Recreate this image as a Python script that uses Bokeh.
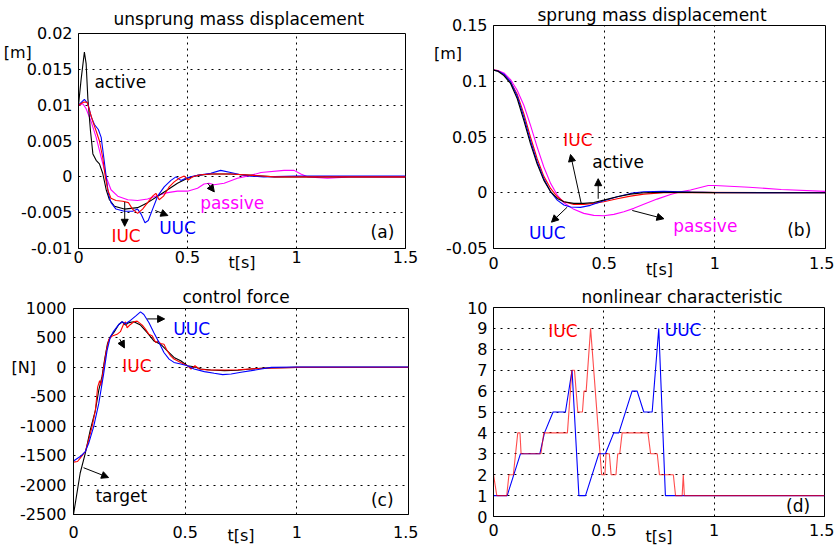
from bokeh.plotting import figure
from bokeh.models import Label, Arrow, NormalHead, FixedTicker, Range1d
from bokeh.layouts import column, row
from bokeh.embed import file_html
from bokeh.resources import INLINE

FONT = "DejaVu Sans"
RED, BLUE, MAG, BLK = "#ff0000", "#0000ff", "#ff00ff", "#000000"
NB = "\u00a0"

# ---------------- data ----------------
x_ticks = [0, 0.5, 1, 1.5]
x_tick_labels = ["0", "0.5", "1", "1.5"]

# (a) unsprung mass displacement [m]
a_yticks = [-0.01, -0.005, 0, 0.005, 0.01, 0.015, 0.02]
a_ylabels = ["-0.01", "-0.005", "0", "0.005", "0.01", "0.015", "0.02"]
a_unit, a_unit_y = "[m]", 0.0174
a_t_active = [0, 0.012, 0.027, 0.035, 0.043, 0.055, 0.066, 0.081, 0.096, 0.111, 0.127, 0.142, 0.165,
              0.21, 0.271, 0.317, 0.363, 0.409, 0.454, 0.5, 0.546, 0.607, 0.698, 0.8, 0.9, 1.0, 1.5]
a_active = [0.01, 0.0136, 0.0174, 0.0158, 0.0109, 0.0064, 0.0032, 0.0023, 0.0018, 0.0005, -0.0018,
            -0.0032, -0.0041, -0.0045, -0.0043, -0.0036, -0.0027, -0.0018, -0.0009, -0.0002, 0.0002,
            0.0004, 0.0004, 0.0002, 0.0, 0.0, 0.0]
a_t_uuc = [0, 0.027, 0.043, 0.058, 0.073, 0.091, 0.104, 0.116, 0.127, 0.137, 0.149, 0.172, 0.21, 0.248,
           0.271, 0.287, 0.305, 0.32, 0.34, 0.363, 0.393, 0.424, 0.447, 0.47, 0.492, 0.515, 0.546, 0.607,
           0.652, 0.698, 0.744, 0.79, 0.85, 1.0, 1.5]
a_uuc = [0.01, 0.0108, 0.0102, 0.0084, 0.0073, 0.0066, 0.0055, 0.0027, 0.0, -0.0023, -0.0036, -0.0045,
         -0.0048, -0.0048, -0.0045, -0.0052, -0.0064, -0.0061, -0.0045, -0.0027, -0.0014, -0.0005, 0.0,
         -0.0005, -0.0002, 0.0, 0.0002, 0.0005, 0.0009, 0.0006, 0.0003, 0.0001, 0.0, 0.0001, 0.0001]
a_t_iuc = [0, 0.024, 0.04, 0.05, 0.066, 0.081, 0.096, 0.111, 0.123, 0.134, 0.149, 0.172, 0.203, 0.229,
           0.248, 0.271, 0.294, 0.317, 0.34, 0.355, 0.37, 0.39, 0.416, 0.439, 0.462, 0.485, 0.503, 0.523,
           0.561, 0.607, 0.7, 0.8, 0.9, 1.5]
a_iuc = [0.01, 0.01045, 0.0104, 0.0093, 0.0077, 0.0064, 0.005, 0.0027, 0.0, -0.0018, -0.003, -0.0033,
         -0.0034, -0.0036, -0.0045, -0.0051, -0.0045, -0.0036, -0.0027, -0.0023, -0.0032, -0.0027,
         -0.0014, -0.0007, -0.0002, 0.0001, -0.00045, 0.0, 0.0003, 0.0004, 0.0004, 0.0002, 0.0, 0.0]
a_t_pas = [0, 0.02, 0.035, 0.058, 0.081, 0.104, 0.127, 0.149, 0.18, 0.226, 0.271, 0.317, 0.363, 0.409,
           0.454, 0.5, 0.546, 0.576, 0.599, 0.622, 0.668, 0.729, 0.79, 0.837, 0.943, 0.989, 1.02, 1.05,
           1.142, 1.248, 1.5]
a_pas = [0.01, 0.0102, 0.0095, 0.0077, 0.0055, 0.0027, 0.0, -0.0018, -0.0027, -0.0032, -0.0033, -0.0031,
         -0.0026, -0.0022, -0.002, -0.002, -0.0016, -0.001, -0.0009, -0.0011, -0.0009, -0.0002, 0.0002,
         0.0006, 0.0009, 0.0009, 0.0004, 0.0, -0.0002, 0.0, 0.0]

# (b) sprung mass displacement [m]
b_yticks = [-0.05, 0, 0.05, 0.1, 0.15]
b_ylabels = ["-0.05", "0", "0.05", "0.1", "0.15"]
b_unit, b_unit_y = "[m]", 0.125
b_t_active = [0, 0.02, 0.047, 0.077, 0.107, 0.137, 0.167, 0.197, 0.227, 0.258, 0.288, 0.318, 0.363,
              0.408, 0.453, 0.498, 0.559, 0.619, 0.679, 0.77, 0.89, 1.0, 1.5]
b_active = [0.11, 0.109, 0.105, 0.098, 0.0845, 0.065, 0.044, 0.026, 0.0113, 0.0009, -0.0051, -0.008,
            -0.0095, -0.0095, -0.0087, -0.0066, -0.0036, -0.0012, 0.0, 0.0003, 0.0003, 0.0001, 0.0]
b_t_uuc = [0, 0.02, 0.047, 0.077, 0.107, 0.137, 0.167, 0.197, 0.227, 0.258, 0.288, 0.318, 0.348, 0.393,
           0.438, 0.498, 0.559, 0.619, 0.679, 0.77, 0.89, 1.0, 1.5]
b_uuc = [0.11, 0.1092, 0.1063, 0.0996, 0.0868, 0.068, 0.0466, 0.0278, 0.0128, 0.0009, -0.0066, -0.011,
         -0.0128, -0.0131, -0.0113, -0.0072, -0.0036, -0.0006, 0.0009, 0.0012, 0.0006, 0.0002, 0.0]
b_t_iuc = [0, 0.02, 0.047, 0.077, 0.107, 0.137, 0.167, 0.197, 0.227, 0.258, 0.288, 0.318, 0.363, 0.408,
           0.453, 0.498, 0.559, 0.619, 0.679, 0.77, 0.89, 1.5]
b_iuc = [0.11, 0.1095, 0.1059, 0.0996, 0.0884, 0.071, 0.050, 0.0307, 0.0149, 0.0039, -0.0036, -0.008,
         -0.0104, -0.0104, -0.0095, -0.008, -0.0054, -0.003, -0.0012, 0.0, 0.0003, 0.0]
b_t_pas = [0, 0.02, 0.047, 0.077, 0.107, 0.137, 0.167, 0.197, 0.227, 0.258, 0.288, 0.318, 0.363, 0.408,
           0.453, 0.498, 0.544, 0.589, 0.634, 0.679, 0.739, 0.8, 0.845, 0.89, 0.97, 1.0, 1.154, 1.3, 1.5]
b_pas = [0.11, 0.1097, 0.1075, 0.1015, 0.092, 0.0785, 0.0606, 0.0412, 0.0233, 0.0084, -0.0021, -0.009,
         -0.0149, -0.0185, -0.0203, -0.0206, -0.0194, -0.017, -0.014, -0.0104, -0.0057, -0.0015, 0.0009,
         0.0024, 0.0065, 0.0065, 0.005, 0.0029, 0.0012]

# (c) control force [N]
c_yticks = [-2500, -2000, -1500, -1000, -500, 0, 500, 1000]
c_ylabels = ["-2500", "-2000", "-1500", "-1000", "-500", "0", "500", "1000"]
c_unit, c_unit_y = "[N]", 0
c_t_target = [0, 0.03, 0.053, 0.075, 0.098, 0.113, 0.128, 0.14, 0.152, 0.165, 0.18, 0.203, 0.218, 0.233,
              0.248, 0.27, 0.3, 0.33, 0.36, 0.39, 0.42, 0.45, 0.48, 0.51, 0.54, 0.57, 0.615, 0.676, 0.736,
              0.796, 0.856, 1.0, 1.5]
c_target = [-2500, -1795, -1459, -1066, -729, -393, -150, 150, 400, 520, 589, 729, 774, 718, 760, 774,
            718, 589, 449, 393, 280, 168, 112, 28, 10, -28, -45, -56, -50, -28, -10, 0, 0]
c_t_iuc = [0, 0.018, 0.03, 0.053, 0.068, 0.083, 0.098, 0.108, 0.117, 0.123, 0.135, 0.147, 0.158, 0.173,
           0.195, 0.21, 0.225, 0.233, 0.24, 0.255, 0.27, 0.285, 0.308, 0.323, 0.338, 0.353, 0.368, 0.378,
           0.39, 0.405, 0.42, 0.435, 0.45, 0.48, 0.51, 0.526, 0.544, 0.563, 0.6, 0.66, 0.736, 0.826, 1.0, 1.5]
c_iuc = [-1610, -1600, -1543, -1430, -1234, -1010, -729, -337, -224, -309, 0, 280, 477, 533, 561, 606,
         740, 774, 673, 729, 774, 785, 718, 645, 561, 533, 421, 449, 404, 393, 280, 196, 140, 84, 28, -28,
         28, -28, -45, -45, -40, -20, 0, 0]
c_t_uuc = [0, 0.03, 0.053, 0.068, 0.09, 0.113, 0.135, 0.15, 0.165, 0.18, 0.203, 0.218, 0.233, 0.255,
           0.278, 0.3, 0.315, 0.338, 0.36, 0.383, 0.405, 0.428, 0.45, 0.48, 0.51, 0.54, 0.586, 0.63, 0.668,
           0.706, 0.75, 0.796, 0.84, 0.886, 1.0, 1.5]
c_uuc = [-1590, -1515, -1430, -1290, -1010, -617, -112, 280, 516, 617, 729, 774, 740, 797, 870, 942, 898,
         757, 589, 421, 252, 140, 84, 56, 28, -28, -73, -101, -123, -112, -84, -56, -28, 0, 5, 5]

# (d) nonlinear characteristic
d_yticks = list(range(0, 11))
d_ylabels = [str(v) for v in d_yticks]
d_t_iuc = [0, 0.015, 0.06, 0.07, 0.09, 0.11, 0.12, 0.125, 0.215, 0.228, 0.335, 0.355, 0.367, 0.382, 0.403,
           0.41, 0.42, 0.44, 0.49, 0.505, 0.51, 0.525, 0.533, 0.555, 0.563, 0.572, 0.583, 0.70, 0.712,
           0.742, 0.752, 0.815, 0.825, 0.855, 0.86, 0.865, 1.5]
d_iuc = [2, 1, 1, 2, 2, 4, 4, 3, 3, 4, 4, 7, 7, 5, 5, 6, 6, 9, 2, 2, 3, 3, 2, 2, 3, 3, 4, 4, 3, 3, 2, 2,
         1, 1, 2, 1, 1]
d_t_uuc = [0, 0.062, 0.122, 0.21, 0.231, 0.27, 0.326, 0.356, 0.387, 0.417, 0.477, 0.507, 0.545, 0.568,
           0.628, 0.651, 0.681, 0.719, 0.749, 0.779, 1.5]
d_uuc = [1, 1, 3, 3, 4, 5, 5, 7, 1, 1, 3, 3, 4, 4, 6, 6, 5, 5, 9, 1, 1]


def make_fig(width, height, bl, br, bt, bb, y0, y1, yticks, ylabels, title, toff, tstand,
             xstand, lstand, ystand, unit=None, unit_y=None, unit_pad=0):
    p = figure(width=width, height=height, output_backend="svg", toolbar_location=None,
               x_range=Range1d(0, 1.5), y_range=Range1d(y0, y1),
               min_border_left=bl, min_border_right=br, min_border_top=bt, min_border_bottom=bb)
    p.background_fill_color = "white"
    p.border_fill_color = "white"
    p.outline_line_color = "black"
    p.outline_line_width = 1
    p.outline_line_alpha = 1
    # title
    p.title.text = title
    p.title.align = "left"
    p.title.offset = toff
    p.title.standoff = tstand
    p.title.text_font = FONT
    p.title.text_font_size = "17px"
    p.title.text_font_style = "normal"
    p.title.text_color = "black"
    # x axis
    p.xaxis.ticker = FixedTicker(ticks=x_ticks)
    p.xaxis.major_label_overrides = {t: l for t, l in zip(x_ticks, x_tick_labels)}
    p.xaxis.axis_label = "t[s]"
    p.xaxis.axis_label_standoff = lstand
    p.xaxis.axis_label_text_font = FONT
    p.xaxis.axis_label_text_font_size = "16px"
    p.xaxis.axis_label_text_font_style = "normal"
    p.xaxis.axis_label_text_color = "black"
    # y axis (unit text sits in the tick-label column)
    yt = list(yticks)
    yl = list(ylabels)
    if unit is not None:
        if unit_y in yt:
            i = yt.index(unit_y)
            yl[i] = unit + NB * unit_pad + yl[i]
        else:
            yt.append(unit_y)
            yl.append(unit + NB * unit_pad)
    p.yaxis.ticker = FixedTicker(ticks=yt)
    p.yaxis.major_label_overrides = {t: l for t, l in zip(yt, yl)}
    for ax, st in ((p.xaxis, xstand), (p.yaxis, ystand)):
        ax.axis_line_color = "black"
        ax.major_tick_in = 0
        ax.major_tick_out = 0
        ax.minor_tick_line_color = None
        ax.major_label_text_font = FONT
        ax.major_label_text_font_size = "16px"
        ax.major_label_text_color = "black"
        ax.major_label_standoff = st
    p.xgrid.ticker = FixedTicker(ticks=x_ticks)
    p.ygrid.ticker = FixedTicker(ticks=list(yticks))
    p.xgrid.grid_line_color = "black"
    p.xgrid.grid_line_dash = "2 4"
    p.ygrid.grid_line_color = "black"
    p.ygrid.grid_line_dash = "2 5"
    return p


def txt(p, x, y, s, color="black"):
    p.add_layout(Label(x=x, y=y, text=s, text_color=color, text_font=FONT, text_font_size="17px",
                       text_align="left", text_baseline="middle"))


def arrows(p, lst):
    for (x0, y0, x1, y1) in lst:
        p.add_layout(Arrow(end=NormalHead(size=7, fill_color="black", line_color="black", line_width=1),
                           x_start=x0, y_start=y0, x_end=x1, y_end=y1,
                           line_color="black", line_width=1))


LW = 1.1

# ---- (a)
pa = make_fig(418, 283, 77, 13, 33, 35, -0.01, 0.02, a_yticks, a_ylabels,
              "unsprung mass displacement", 35, 9, 2, -13, 6, a_unit, a_unit_y, 8)
pa.line(a_t_pas, a_pas, color=MAG, line_width=LW)
pa.line(a_t_active, a_active, color=BLK, line_width=LW)
pa.line(a_t_uuc, a_uuc, color=BLUE, line_width=LW)
pa.line(a_t_iuc, a_iuc, color=RED, line_width=LW)
txt(pa, 0.073, 0.0133, "active")
txt(pa, 0.558, -0.0036, "passive", MAG)
txt(pa, 0.151, -0.0082, "IUC", RED)
txt(pa, 0.37, -0.0072, "UUC", BLUE)
txt(pa, 1.34, -0.0077, "(a)")
arrows(pa, [(0.212, -0.0035, 0.212, -0.0069), (0.352, -0.0047, 0.41, -0.0054),
            (0.593, -0.0009, 0.623, -0.0021)])

# ---- (b)
pb = make_fig(416, 283, 75, 9, 25, 35, -0.05, 0.15, b_yticks, b_ylabels,
              "sprung mass displacement", 44, 1, 8, -12, 6, b_unit, b_unit_y, 5)
pb.line(b_t_pas, b_pas, color=MAG, line_width=LW)
pb.line(b_t_iuc, b_iuc, color=RED, line_width=LW)
pb.line(b_t_uuc, b_uuc, color=BLUE, line_width=LW)
pb.line(b_t_active, b_active, color=BLK, line_width=LW)
txt(pb, 0.315, 0.0469, "IUC", RED)
txt(pb, 0.446, 0.0274, "active")
txt(pb, 0.16, -0.036, "UUC", BLUE)
txt(pb, 0.812, -0.0302, "passive", MAG)
txt(pb, 1.327, -0.0338, "(b)")
arrows(pb, [(0.396, -0.0093, 0.348, 0.0343), (0.473, -0.0054, 0.473, 0.0126),
            (0.333, -0.0129, 0.262, -0.0264), (0.627, -0.0159, 0.77, -0.0233)])

# ---- (c)
pc = make_fig(418, 265, 73, 10, 25, 34, -2500, 1000, c_yticks, c_ylabels,
              "control force", 109, 3, 11, -15, 7, c_unit, c_unit_y, 4)
pc.line(c_t_target, c_target, color=BLK, line_width=LW)
pc.line(c_t_iuc, c_iuc, color=RED, line_width=LW)
pc.line(c_t_uuc, c_uuc, color=BLUE, line_width=LW)
txt(pc, 0.447, 658, "UUC", BLUE)
txt(pc, 0.218, 23, "IUC", RED)
txt(pc, 0.098, -2180, "target")
txt(pc, 1.332, -2250, "(c)")
arrows(pc, [(0.33, 823, 0.408, 823), (0.207, 480, 0.228, 330), (0.045, -1705, 0.157, -1872)])

# ---- (d)
pd_ = make_fig(416, 265, 75, 10, 24, 32, 0, 10, d_yticks, d_ylabels,
               "nonlinear characteristic", 88, 1, 7, -12, 6)
pd_.line(d_t_uuc, d_uuc, color=BLUE, line_width=LW)
pd_.line(d_t_iuc, d_iuc, color=RED, line_width=LW, line_alpha=0.7)
txt(pd_, 0.248, 8.86, "IUC", RED)
txt(pd_, 0.776, 8.94, "UUC", BLUE)
txt(pd_, 1.326, 0.52, "(d)")

# wrap each figure so that rows do not force the frames onto one line
layout = column(row(column(pa), column(pb)), row(column(pc), column(pd_)))
open("out.html", "w").write(file_html(layout, INLINE))
